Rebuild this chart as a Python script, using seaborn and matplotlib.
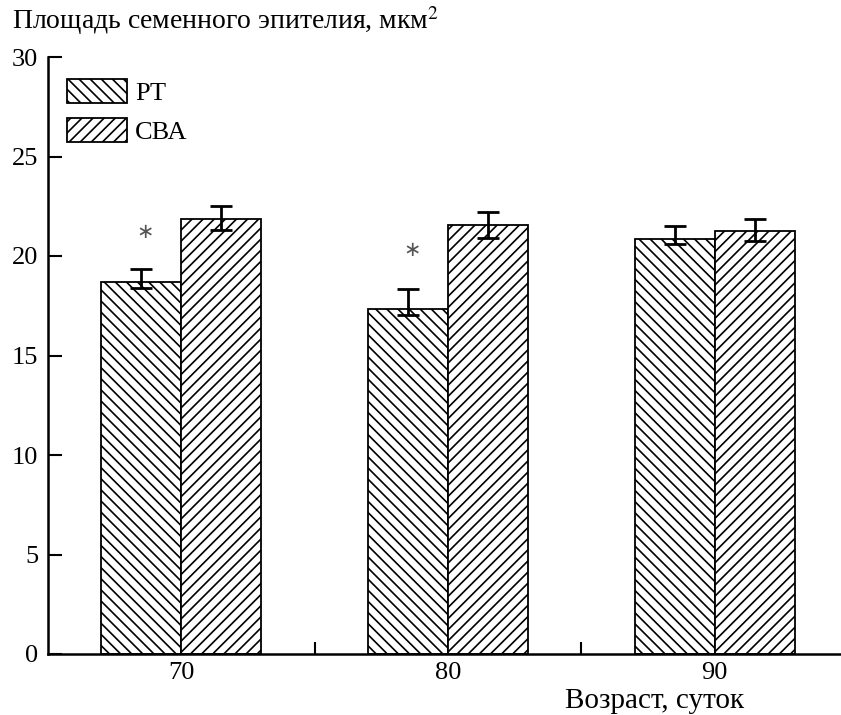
import matplotlib
matplotlib.use("Agg")
import matplotlib.pyplot as plt
import seaborn as sns
import pandas as pd
import numpy as np

ages = ["70", "80", "90"]
groups = ["РТ", "СВА"]
rt_values = [18.7, 17.35, 20.85]
cba_values = [21.85, 21.55, 21.25]
rt_err_low = [0.3, 0.3, 0.27]
rt_err_high = [0.65, 1.0, 0.65]
cba_err_low = [0.53, 0.64, 0.52]
cba_err_high = [0.64, 0.67, 0.61]
star_y = [21.2, 20.3]
yticks = [0, 5, 10, 15, 20, 25, 30]

sns.set_theme(style="white")
plt.rcParams['font.family'] = ['Liberation Serif', 'DejaVu Serif']
plt.rcParams['hatch.linewidth'] = 1.2
plt.rcParams['hatch.color'] = 'black'
plt.rcParams['text.color'] = 'black'
plt.rcParams['xtick.color'] = 'black'
plt.rcParams['ytick.color'] = 'black'

df = pd.DataFrame({
    "age": ages * 2,
    "group": [groups[0]] * 3 + [groups[1]] * 3,
    "value": rt_values + cba_values,
})

fig = plt.figure(figsize=(8.41, 7.15), dpi=100)
ax = fig.add_axes([48/841, 1 - 654/715, 800/841, (654-57)/715])

sns.barplot(data=df, x="age", y="value", hue="group", order=ages, hue_order=groups,
            palette=["white", "white"], edgecolor="black", linewidth=1.3,
            width=0.6, gap=0, errorbar=None, ax=ax, legend=True)

hatches = ["\\\\\\", "///"]
errs = [(rt_err_low, rt_err_high), (cba_err_low, cba_err_high)]
vals = [rt_values, cba_values]
bar_containers = list(ax.containers)
for i, cont in enumerate(bar_containers):
    xs = []
    for p in cont.patches:
        p.set_hatch(hatches[i])
        p.set_facecolor("white")
        p.set_edgecolor("black")
        xs.append(p.get_x() + p.get_width() / 2)
    ax.errorbar(xs, vals[i], yerr=[errs[i][0], errs[i][1]], fmt="none",
                ecolor="black", elinewidth=2, capsize=8, capthick=2, zorder=5)
    if i == 0:
        for j, sy in enumerate(star_y):
            ax.text(xs[j] + 0.015, sy, "∗", ha="center", va="center", fontsize=15,
                    color="#555555", family="DejaVu Sans")

ax.set_xlim(-0.5, 2.5)
ax.set_ylim(0, 30)
ax.set_yticks(yticks)
ax.set_yticklabels([str(t) for t in yticks], fontsize=19)
ax.set_xticks([0, 1, 2])
ax.set_xticklabels(ages, fontsize=19)
ax.set_xticks([0.5, 1.5], minor=True)
ax.tick_params(axis="x", which="major", length=0, pad=6, bottom=False)
ax.tick_params(axis="x", which="minor", direction="in", length=9, width=1.5,
               color="black", bottom=True)
ax.tick_params(axis="y", which="major", direction="in", length=10, width=1.5,
               color="black", pad=7, left=True)
ax.set_xlabel("")
ax.set_ylabel("")
for s in ["top", "right"]:
    ax.spines[s].set_visible(False)
for s in ["left", "bottom"]:
    ax.spines[s].set_linewidth(1.8)
    ax.spines[s].set_color("black")

leg = ax.legend(loc="upper left", bbox_to_anchor=(19/800, 1 - 22/597), frameon=False, fontsize=19,
                handlelength=2.27, handleheight=1.0, handletextpad=0.3, labelspacing=0.5,
                borderaxespad=0, borderpad=0)
for h, hp in zip(leg.legend_handles, hatches):
    h.set_hatch(hp)
    h.set_facecolor("white")
    h.set_edgecolor("black")
for t in leg.get_texts():
    t.set_color("black")

fig.text(12/841, 1 - 4/715, "Площадь семенного эпителия, мкм$^{2}$", ha="left", va="top",
         fontsize=20, math_fontfamily="stix")
fig.text(655/841, 1 - 708/715, "Возраст, суток", ha="center", va="baseline", fontsize=21)

fig.savefig("out.png", dpi=100)
